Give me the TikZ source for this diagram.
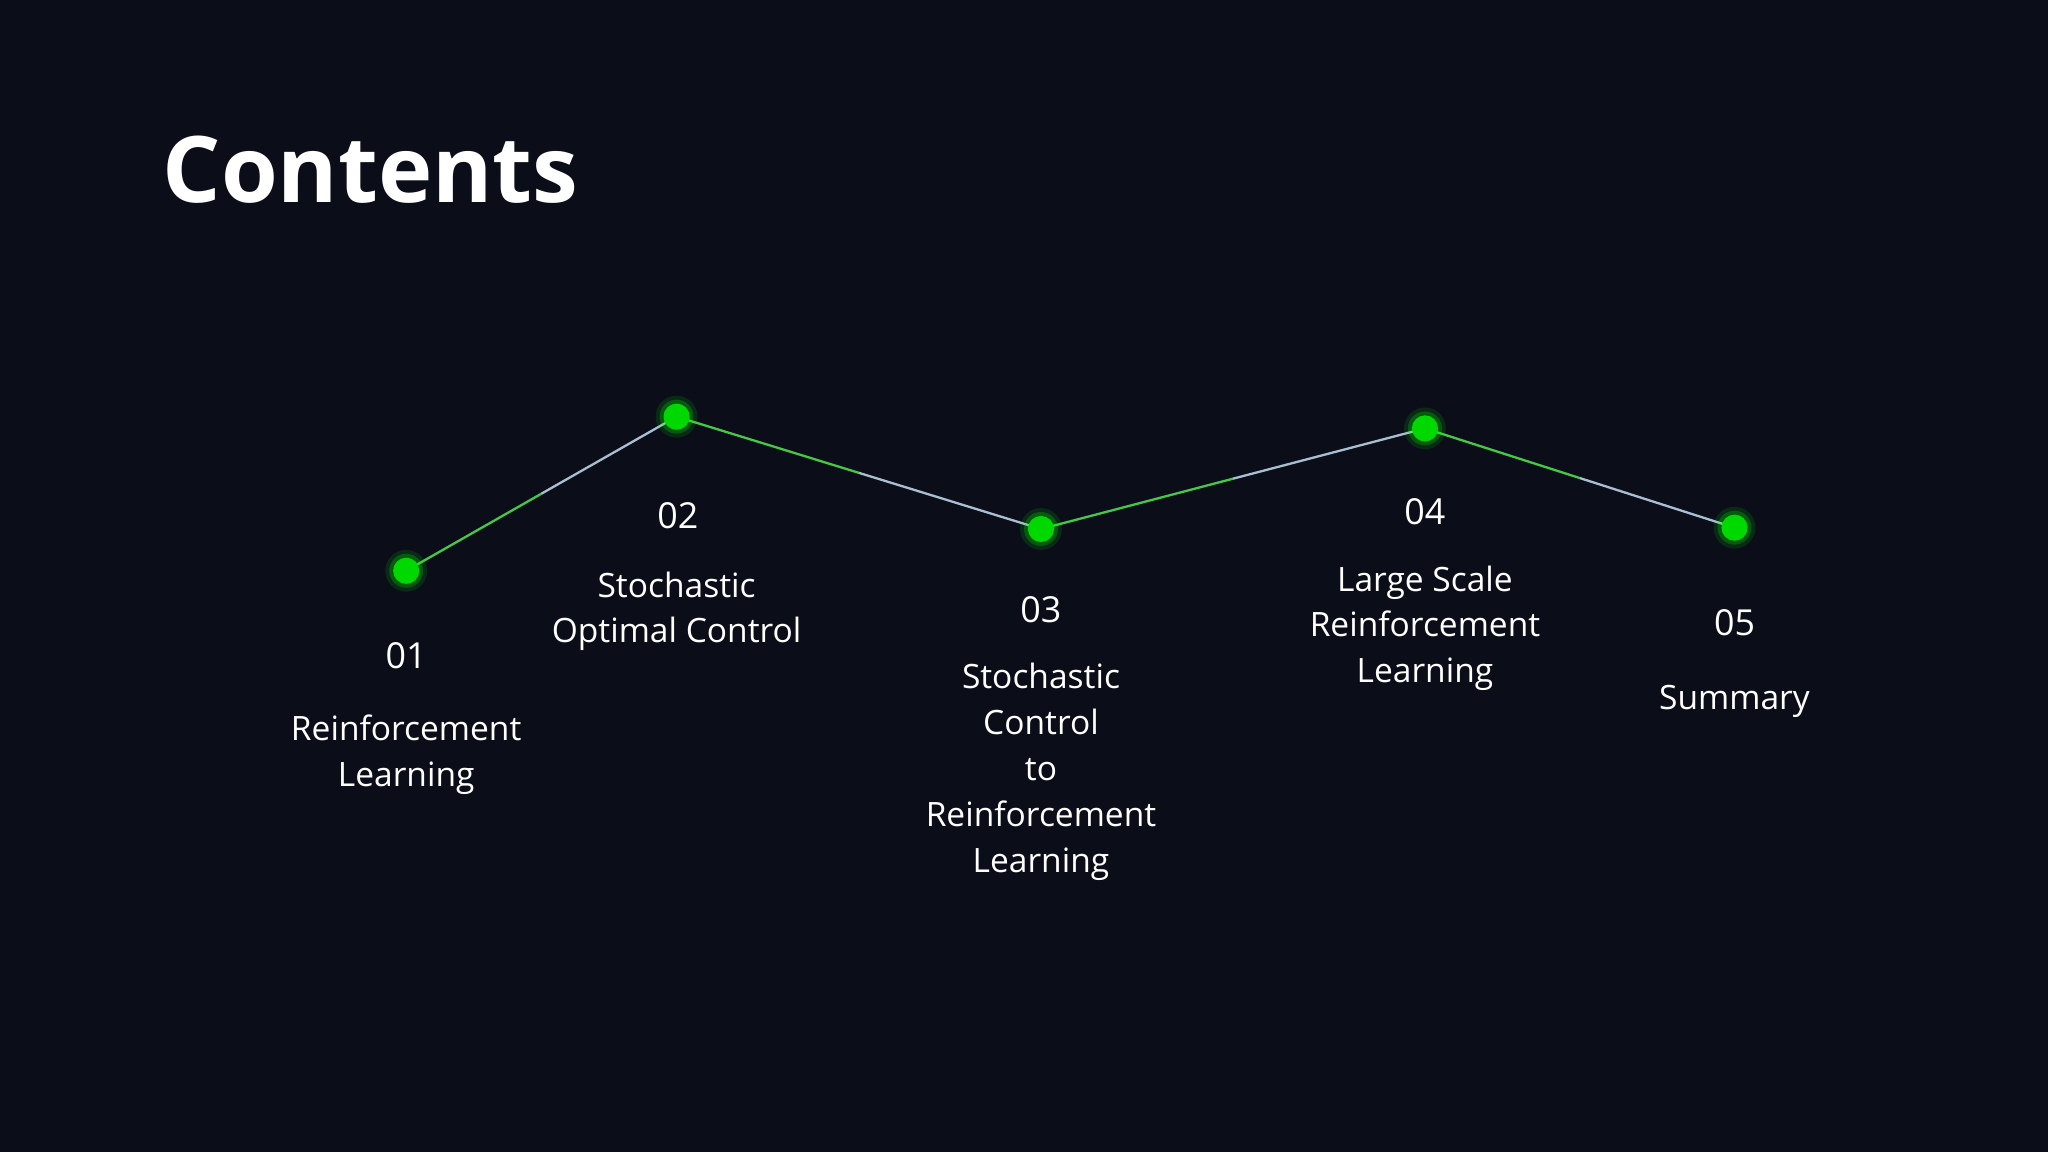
\documentclass[tikz,border=0pt]{standalone}
\usepackage{fontspec}
\setmainfont{Open Sans}
\usetikzlibrary{calc}
\begin{document}
\begin{tikzpicture}[x=0.01cm,y=-0.01cm,
  lbl/.style={text=white,align=center,font=\fontsize{7.3}{10}\selectfont},
  num/.style={text=white,font=\fontsize{7.8}{10}\selectfont},
  dot/.style={circle,fill=green!85!black,minimum size=0.2cm,inner sep=0}]
\fill[fill={rgb,255:red,11;green,14;blue,24}] (0,0) rectangle (1568,882);
\useasboundingbox (0,0) rectangle (1568,882);
\node[anchor=west,text=white,font=\bfseries\fontsize{20}{24}\selectfont] (title) at (112,130) {Contents};
\coordinate (p1) at (311,437);
\coordinate (p2) at (518,319);
\coordinate (p3) at (797,405);
\coordinate (p4) at (1091,328);
\coordinate (p5) at (1328,404);
\foreach \a/\b in {p1/p2,p2/p3,p3/p4,p4/p5}{
  \draw[line width=0.5pt,color={rgb,255:red,70;green,200;blue,70}] (\a) -- ($(\a)!0.5!(\b)$);
  \draw[line width=0.5pt,color={rgb,255:red,170;green,190;blue,210}] ($(\a)!0.5!(\b)$) -- (\b);
}
\foreach \p in {p1,p2,p3,p4,p5}{
  \fill[green,opacity=0.12] (\p) circle (16);
  \fill[green,opacity=0.22] (\p) circle (13);
  \node[dot] (d\p) at (\p) {};
}
\node[num] (n1) at (311,502) {01};
\node[lbl] (t1) at (311,578) {Reinforcement\\Learning};
\node[num] (n2) at (519,395) {02};
\node[lbl] (t2) at (518,468) {Stochastic\\Optimal Control};
\node[num] (n3) at (797,467) {03};
\node[lbl] (t3) at (797,591) {Stochastic\\Control\\to\\Reinforcement\\Learning};
\node[num] (n4) at (1091,392) {04};
\node[lbl] (t4) at (1091,481) {Large Scale\\Reinforcement\\Learning};
\node[num] (n5) at (1328,477) {05};
\node[lbl] (t5) at (1328,537) {Summary};
\end{tikzpicture}
\end{document}
